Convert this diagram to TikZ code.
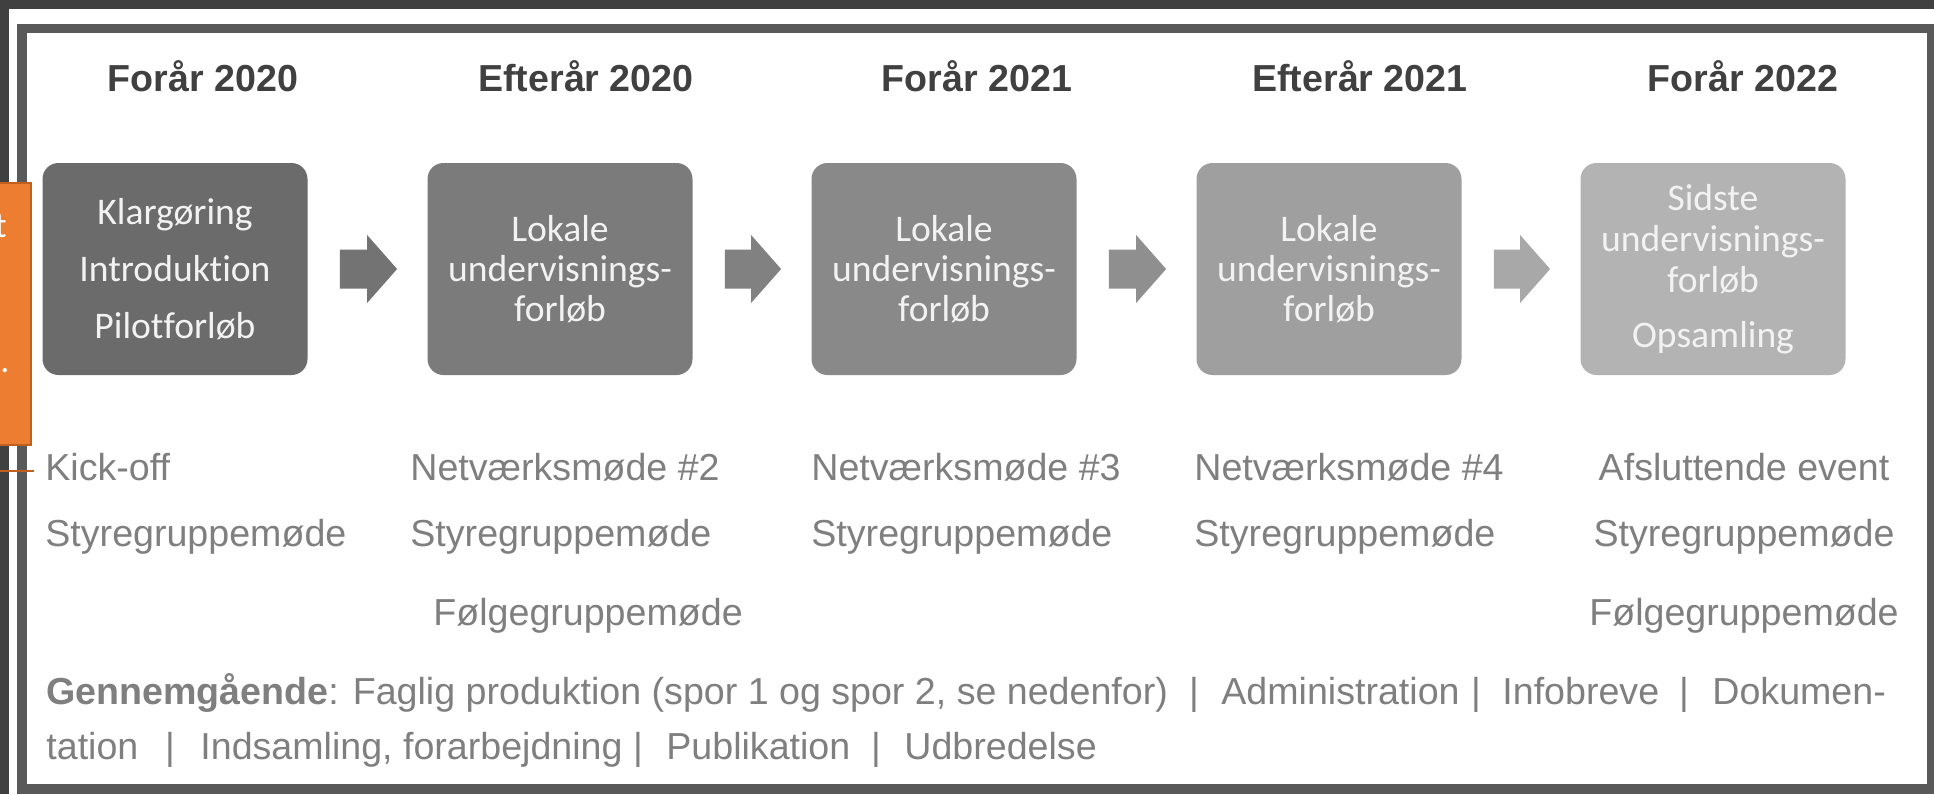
\documentclass[tikz,border=0pt]{standalone}
\usepackage{fontspec}
\setmainfont{Liberation Sans}
\newfontfamily\calib[Ligatures={NoCommon}]{Carlito}
\usetikzlibrary{calc}
\definecolor{bgdark}{HTML}{404040}
\definecolor{framec}{HTML}{595959}
\definecolor{hdrc}{HTML}{404040}
\definecolor{lowc}{HTML}{7F7F7F}
\definecolor{boxA}{HTML}{6B6B6B}
\definecolor{boxB}{HTML}{7B7B7B}
\definecolor{boxC}{HTML}{898989}
\definecolor{boxD}{HTML}{9F9F9F}
\definecolor{boxE}{HTML}{B3B3B3}
\definecolor{arrA}{HTML}{737373}
\definecolor{arrB}{HTML}{818181}
\definecolor{arrC}{HTML}{8F8F8F}
\definecolor{arrD}{HTML}{A8A8A8}
\definecolor{boxtxt}{HTML}{F2F2F2}
\definecolor{orng}{HTML}{ED7D31}
\definecolor{orngd}{HTML}{C0601F}
\newcommand\blockarr[3]{%
  \fill[#3] ($(#1.east)+(32,-19.5)$) -- ($(#2.west)+(-60,-19.5)$) -- ($(#2.west)+(-60,-34)$)
    -- ($(#2.west)+(-30,0)$) -- ($(#2.west)+(-60,34)$) -- ($(#2.west)+(-60,19.5)$)
    -- ($(#1.east)+(32,19.5)$) -- cycle;}
\begin{document}
\begin{tikzpicture}[x=0.5pt,y=-0.5pt,
  stagebox/.style={rounded corners=8pt, minimum width=132.5pt, minimum height=106pt,
    inner sep=0pt, text=boxtxt, align=center, font=\calib\fontsize{18.8}{20}\selectfont},
  hdr/.style={anchor=base, inner sep=0pt, text=hdrc, font=\bfseries\fontsize{18.8}{20}\selectfont},
  lowt/.style={anchor=base west, inner sep=0pt, text=lowc, font=\fontsize{18.8}{20}\selectfont},
  lowtc/.style={lowt, anchor=base}]
\useasboundingbox (0,0) rectangle (1934,794);
% background and frame
\fill[bgdark] (0,0) rectangle (1934,794);
\fill[white] (9,9) rectangle (1934,794);
\fill[framec] (17,24) rectangle (1934,794);
\fill[white] (27,33) rectangle (1927,784);
% headers
\node[hdr] (h1) at (203,91) {Forår 2020};
\node[hdr] (h2) at (586,91) {Efterår 2020};
\node[hdr] (h3) at (977,91) {Forår 2021};
\node[hdr] (h4) at (1360,91) {Efterår 2021};
\node[hdr] (h5) at (1743,91) {Forår 2022};
% stage boxes
\node[stagebox, fill=boxA, font=\calib\fontsize{18.8}{28.5}\selectfont] (b1) at (175,269) {Klargøring\\Introduktion\\Pilotforløb};
\node[stagebox, fill=boxB] (b2) at (560,269) {Lokale\\undervisnings-\\forløb};
\node[stagebox, fill=boxC] (b3) at (944,269) {Lokale\\undervisnings-\\forløb};
\node[stagebox, fill=boxD] (b4) at (1329,269) {Lokale\\undervisnings-\\forløb};
\node[stagebox, fill=boxE, font=\calib\fontsize{18.8}{20.5}\selectfont] (b5) at (1713,269) {Sidste\\undervisnings-\\forløb\\[7pt]Opsamling};
% block arrows
\blockarr{b1}{b2}{arrA}
\blockarr{b2}{b3}{arrB}
\blockarr{b3}{b4}{arrC}
\blockarr{b4}{b5}{arrD}
% events
\node[lowt] (e1a) at (45,480) {Kick-off};
\node[lowt] (e1b) at (45,546) {Styregruppemøde};
\node[lowt] (e2a) at (410,480) {Netværksmøde \#2};
\node[lowt] (e2b) at (410,546) {Styregruppemøde};
\node[lowt] (e2c) at (433,625) {Følgegruppemøde};
\node[lowt] (e3a) at (811,480) {Netværksmøde \#3};
\node[lowt] (e3b) at (811,546) {Styregruppemøde};
\node[lowt] (e4a) at (1194,480) {Netværksmøde \#4};
\node[lowt] (e4b) at (1194,546) {Styregruppemøde};
\node[lowtc] (e5a) at (1744,480) {Afsluttende event};
\node[lowtc] (e5b) at (1744,546) {Styregruppemøde};
\node[lowtc] (e5c) at (1744,625) {Følgegruppemøde};
% bottom lines
\node[lowt] (g1) at (46,704) {\textbf{Gennemgående}: Faglig produktion (spor 1 og spor 2, se nedenfor)};
\node[lowtc] (s1) at (1194,704) {|};
\node[lowt] (g2) at (1221,704) {Administration};
\node[lowtc] (s2) at (1476,704) {|};
\node[lowt] (g3) at (1502,704) {Infobreve};
\node[lowtc] (s3) at (1684,704) {|};
\node[lowt] (g4) at (1712,704) {Dokumen-};
\node[lowt] (k1) at (46,759) {tation};
\node[lowtc] (t1) at (170,759) {|};
\node[lowt] (k2) at (200,759) {Indsamling, forarbejdning};
\node[lowtc] (t2) at (638,759) {|};
\node[lowt] (k3) at (666,759) {Publikation};
\node[lowtc] (t3) at (876,759) {|};
\node[lowt] (k4) at (904,759) {Udbredelse};
% comment box (cut off at left edge)
\begin{scope}
\clip (0,183) rectangle (31,445);
\fill[orng] (0,183) rectangle (31,445);
\node[anchor=base east, inner sep=0pt, text=white, font=\calib\fontsize{18}{20}\selectfont] (ct) at (7,237) {t};
\node[anchor=base, inner sep=0pt, text=white, font=\calib\fontsize{18}{20}\selectfont] (cd) at (5,372) {.};
\end{scope}
\draw[orngd, line width=1pt] (-5,183) rectangle (31,445);
\coordinate (cmA) at (0,471);
\coordinate (cmB) at (34,471);
\draw[orngd, line width=1pt] (cmA) -- (cmB);
\end{tikzpicture}
\end{document}
